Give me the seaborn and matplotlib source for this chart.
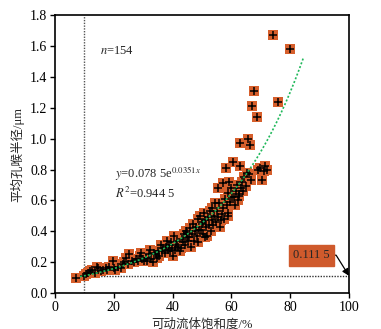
import numpy as np
import pandas as pd
import matplotlib
matplotlib.use("Agg")
import matplotlib.pyplot as plt
import seaborn as sns

# ---- data ----
saturation = [
    7.3, 9.8, 10.5, 11.2, 12.0, 12.7, 13.5, 14.2, 14.6, 15.5, 16.4, 17.2, 17.8, 18.5, 19.6, 19.9, 20.5, 21.5, 22.3, 23.0,
    23.5, 24.2, 24.8, 25.3, 26.2,
    26.8, 27.5, 28.2, 28.8, 29.2, 29.6, 30.3, 30.8, 31.3, 31.8, 32.3, 32.8, 33.2, 33.6, 34.2, 34.6, 35.0, 35.4, 35.9, 36.3,
    36.8, 37.3, 37.6, 38.0, 38.4, 38.8, 39.1, 39.5, 39.9, 40.3, 40.6, 40.9, 41.3, 41.6, 42.0,
    42.4, 42.8, 43.1, 43.5, 43.8, 44.2, 44.6, 44.9, 45.3, 45.7, 46.0, 46.3, 46.7, 47.0, 47.3, 47.6, 48.0, 48.3, 48.5, 48.8,
    49.1, 49.3, 49.6, 49.9, 50.2, 50.5, 50.7, 51.0, 51.1, 51.4, 51.8, 52.1, 52.4, 52.7, 53.0, 45.0,
    53.3, 53.5, 53.8, 54.1, 54.4, 54.7, 55.0, 55.4, 55.6, 55.9, 56.2, 56.4, 56.7, 57.0, 57.3, 57.6, 57.9, 58.0, 58.4, 58.7,
    59.0, 59.2, 59.5, 59.8, 60.1, 60.5, 60.8, 61.1, 61.4, 61.8, 62.1, 62.5, 62.7, 62.9, 62.8, 58.9,
    63.3, 63.7, 64.0, 64.4, 64.8, 65.2, 65.5, 65.9, 66.4, 66.8, 67.1, 67.8, 68.7, 69.2, 69.7, 70.3, 71.0, 71.5, 72.0, 74.3,
    75.7, 80.0,
]
radius = [
    0.10, 0.11, 0.12, 0.13, 0.14, 0.15, 0.13, 0.17, 0.16, 0.14, 0.15, 0.16, 0.15, 0.17, 0.21, 0.16, 0.15, 0.17, 0.16, 0.19,
    0.20, 0.23, 0.19, 0.25, 0.21,
    0.20, 0.22, 0.21, 0.24, 0.26, 0.22, 0.21, 0.23, 0.21, 0.25, 0.28, 0.22, 0.20, 0.26, 0.25, 0.23, 0.27, 0.24, 0.31, 0.27,
    0.29, 0.26, 0.30, 0.34, 0.28, 0.31, 0.27, 0.33, 0.29, 0.24, 0.37, 0.28, 0.31, 0.34, 0.30,
    0.27, 0.29, 0.35, 0.33, 0.38, 0.31, 0.40, 0.36, 0.34, 0.36, 0.42, 0.30, 0.38, 0.45, 0.34, 0.40, 0.43, 0.37, 0.48, 0.33,
    0.41, 0.50, 0.41, 0.45, 0.38, 0.46, 0.52, 0.36, 0.47, 0.43, 0.37, 0.49, 0.44, 0.53, 0.40, 0.39,
    0.47, 0.55, 0.44, 0.50, 0.58, 0.46, 0.53, 0.68, 0.49, 0.58, 0.43, 0.47, 0.51, 0.71, 0.55, 0.48, 0.61, 0.81, 0.57, 0.52,
    0.65, 0.72, 0.59, 0.68, 0.62, 0.85, 0.62, 0.57, 0.66, 0.70, 0.60, 0.63, 0.64, 0.82, 0.97, 0.50,
    0.68, 0.72, 0.66, 0.75, 0.69, 0.78, 1.00, 0.77, 0.96, 0.73, 1.21, 1.31, 1.14, 0.80, 0.81, 0.73, 0.79, 0.82, 0.80, 1.67,
    1.24, 1.58,
]
fit_a, fit_b = 0.0785, 0.0351      # y = a * e^(b x)
fit_range = (8.5, 84.6)
cutoff_x = 10
cutoff_y = 0.1115
x_ticks = [0, 20, 40, 60, 80, 100]
y_ticks = [0, 0.2, 0.4, 0.6, 0.8, 1.0, 1.2, 1.4, 1.6, 1.8]

df = pd.DataFrame({"x": saturation, "y": radius})
xf = np.linspace(fit_range[0], fit_range[1], 200)
fit_df = pd.DataFrame({"x": xf, "y": fit_a * np.exp(fit_b * xf)})

sns.set_theme(style="ticks")
plt.rcParams["font.family"] = ["Liberation Serif", "Noto Sans CJK SC", "DejaVu Sans"]
plt.rcParams["mathtext.fontset"] = "stix"

fig = plt.figure(figsize=(3.81, 3.29), dpi=100)
ax = fig.add_axes([0.1444, 0.1094, 0.9160 - 0.1444, 0.954 - 0.1094])

orange = "#d65f2c"
ax.axvline(cutoff_x, color="#555555", ls=(0, (1, 1)), lw=1.0, zorder=1)
ax.plot([cutoff_x, 100], [cutoff_y, cutoff_y], color="#333333", ls=(0, (1, 1)), lw=1.0, zorder=1)

sns.scatterplot(data=df, x="x", y="y", ax=ax, marker="s", s=44, color=orange,
                edgecolor=orange, linewidth=0, zorder=3, legend=False)
sns.scatterplot(data=df, x="x", y="y", ax=ax, marker="+", s=32, color="black",
                linewidth=1.1, zorder=4, legend=False)
sns.lineplot(data=fit_df, x="x", y="y", ax=ax, color="#1fb85a", lw=1.2,
             ls=(0, (1.2, 1.2)), zorder=5)

ax.set_xlim(0, 100)
ax.set_ylim(0, 1.8)
ax.set_xticks(x_ticks)
ax.set_yticks(y_ticks)
ax.set_xticklabels([str(v) for v in x_ticks])
ax.set_yticklabels([f"{v:.1f}" for v in y_ticks])
ax.tick_params(axis="both", direction="out", length=3.5, width=1.0, labelsize=10, colors="black", pad=2)
for sp in ax.spines.values():
    sp.set_visible(True)
    sp.set_color("black")
    sp.set_linewidth(1.2)

ax.set_xlabel("可动流体饱和度/%", fontsize=9, labelpad=3)
ax.set_ylabel("平均孔喉半径/μm", fontsize=9, labelpad=4)

ax.text(15.3, 1.57, r"$n$=154", fontsize=9, va="center")
ax.text(20.5, 0.71, r"$y$=0.078 5e$^{0.0351x}$", fontsize=9, va="bottom")
ax.text(20.5, 0.645, r"$R^2$=0.944 5", fontsize=9, va="center")

ax.annotate("0.111 5", xy=(100, cutoff_y), xytext=(87.2, 0.245), fontsize=9,
            ha="center", va="center",
            bbox=dict(boxstyle="square,pad=0.35", fc="#cf5a2c", ec="#cf5a2c"),
            arrowprops=dict(arrowstyle="-|>", color="black", lw=0.9,
                            connectionstyle="angle,angleA=0,angleB=122,rad=0",
                            shrinkA=0, shrinkB=0, mutation_scale=10))

fig.savefig("out.png", dpi=100)
